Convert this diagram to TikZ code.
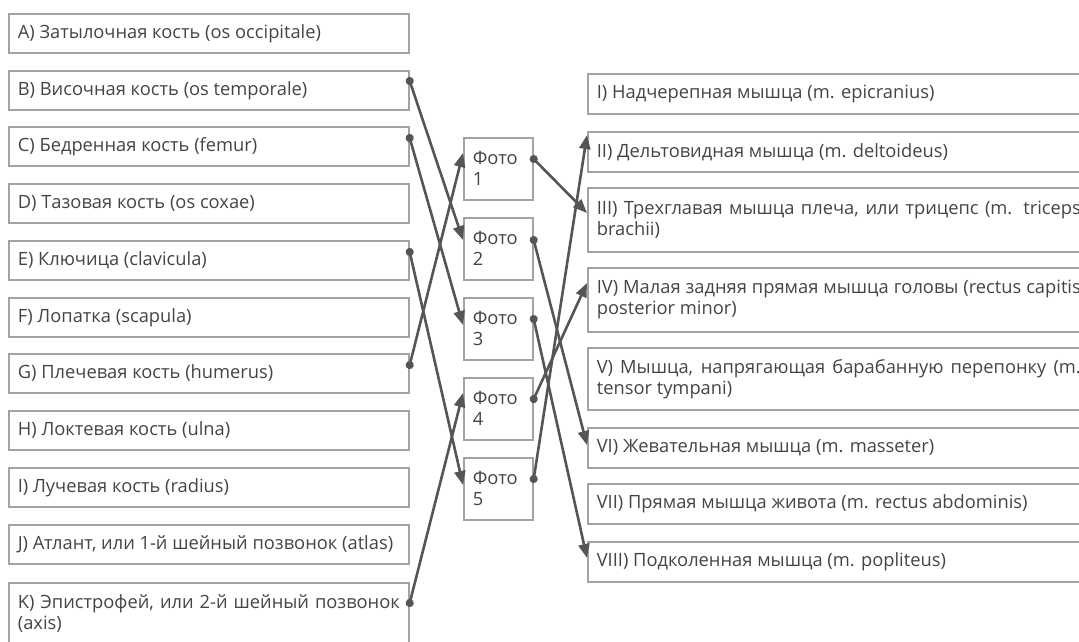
\documentclass[tikz,border=0pt]{standalone}
\usepackage{fontspec}
\setmainfont{Open Sans}
\usetikzlibrary{arrows.meta,positioning}
\definecolor{ramka}{HTML}{A3A3A3}
\definecolor{tekst}{HTML}{444444}
\definecolor{liniya}{HTML}{555555}
\hyphenpenalty=10000
\exhyphenpenalty=10000
\tikzset{
    %Define style for the bone boxes
    kost/.style={
           rectangle,
           draw=ramka, line width=1.7pt,
           anchor=north west,
           inner xsep=9pt, inner ysep=0pt,
           text width=382pt,
           minimum height=39pt,
           align=justify,
           text=tekst,
           font=\fontsize{18.3}{21}\selectfont},
    %Define style for the photo boxes
    foto/.style={
           kost,
           text width=51pt,
           minimum height=62pt,
           align=left},
    %Define style for the muscle boxes
    myshca/.style={
           kost,
           text width=484pt,
           minimum height=40pt},
    % Define arrow style
    strelka/.style={
           {Circle[length=8pt]}-{Triangle[length=14pt,width=11pt]},
           line width=2.6pt,
           draw=liniya,
           shorten <=-4pt}
}
\begin{document}
\begin{tikzpicture}[x=1pt, y=-1pt]
\useasboundingbox (0,0) rectangle (1079,641);
\clip (0,0) rectangle (1079,641);

%bones
\node[kost] (kA) at (8,13) {A) Затылочная кость (os occipitale)};
\node[kost] (kB) at (8,70) {B) Височная кость (os temporale)};
\node[kost] (kC) at (8,126) {C) Бедренная кость (femur)};
\node[kost] (kD) at (8,183) {D) Тазовая кость (os coxae)};
\node[kost] (kE) at (8,240) {E) Ключица (clavicula)};
\node[kost] (kF) at (8,297) {F) Лопатка (scapula)};
\node[kost] (kG) at (8,353) {G) Плечевая кость (humerus)};
\node[kost] (kH) at (8,410) {H) Локтевая кость (ulna)};
\node[kost] (kI) at (8,467) {I) Лучевая кость (radius)};
\node[kost] (kJ) at (8,524) {J) Атлант, или 1-й шейный позвонок (atlas)};
\node[kost, minimum height=62pt] (kK) at (8,582) {K) Эпистрофей, или 2-й шейный позвонок (axis)};

%photos
\node[foto] (f1) at (463,137) {Фото\\1};
\node[foto] (f2) at (463,217) {Фото\\2};
\node[foto] (f3) at (463,297) {Фото\\3};
\node[foto] (f4) at (463,377) {Фото\\4};
\node[foto] (f5) at (463,457) {Фото\\5};

%muscles
\node[myshca] (m1) at (587,73) {I) Надчерепная мышца (m. epicranius)};
\node[myshca] (m2) at (587,131) {II) Дельтовидная мышца (m. deltoideus)};
\node[myshca, minimum height=64pt] (m3) at (587,187) {III) Трехглавая мышца плеча, или трицепс (m. triceps brachii)};
\node[myshca, minimum height=64pt] (m4) at (587,267) {IV) Малая задняя прямая мышца головы (rectus capitis posterior minor)};
\node[myshca, minimum height=62pt] (m5) at (587,347) {V) Мышца, напрягающая барабанную перепонку (m. tensor tympani)};
\node[myshca] (m6) at (587,427) {VI) Жевательная мышца (m. masseter)};
\node[myshca] (m7) at (587,483) {VII) Прямая мышца живота (m. rectus abdominis)};
\node[myshca] (m8) at (587,541) {VIII) Подколенная мышца (m. popliteus)};

%bone to photo
\draw[strelka] ([yshift=-11pt]kB.north east) -- ([yshift=-23pt]f2.north west);
\draw[strelka] ([yshift=-12pt]kC.north east) -- ([yshift=-28pt]f3.north west);
\draw[strelka] ([yshift=-12pt]kE.north east) -- ([yshift=-28pt]f5.north west);
\draw[strelka] ([yshift=-12pt]kG.north east) -- ([yshift=-16pt]f1.north west);
\draw[strelka] ([yshift=-21pt]kK.north east) -- ([yshift=-16pt]f4.north west);

%photo to muscle
\draw[strelka] ([yshift=-22pt]f1.north east) -- ([yshift=-26pt]m3.north west);
\draw[strelka] ([yshift=-23pt]f2.north east) -- ([yshift=-18pt]m6.north west);
\draw[strelka] ([yshift=-22pt]f3.north east) -- ([yshift=-17pt]m8.north west);
\draw[strelka] ([yshift=-22pt]f4.north east) -- ([yshift=-16pt]m4.north west);
\draw[strelka] ([yshift=-22pt]f5.north east) -- ([yshift=-4pt]m2.north west);

\end{tikzpicture}
\end{document}
